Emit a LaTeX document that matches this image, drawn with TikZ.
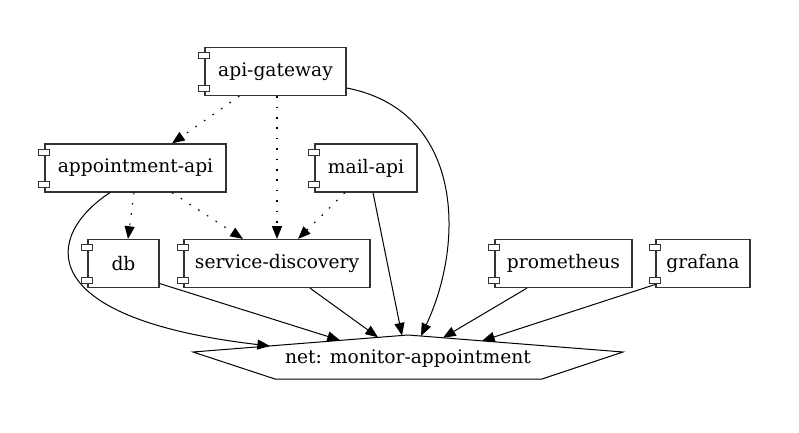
\documentclass[tikz,border=0pt]{standalone}
\usepackage{fontspec}
\setmainfont{DejaVu Serif}
\usetikzlibrary{arrows.meta,calc}
\begin{document}
\begin{tikzpicture}[x=0.75pt,y=-0.75pt,
  comp/.style={draw=black!80, line width=0.9pt, rectangle, inner sep=0pt, minimum height=36pt, font=\fontsize{14}{16}\selectfont},
  dep/.style={-{Triangle[length=9.5pt,width=7.5pt]}, line width=0.8pt, dash pattern=on 1.3pt off 6.5pt},
  link/.style={-{Triangle[length=9.5pt,width=7.5pt]}, line width=0.75pt},
  port/.style={draw=black!80, fill=white, line width=0.8pt},
  netlabel/.style={font=\fontsize{14}{16}\selectfont, inner sep=0pt}]
\fill[white] (0,0) rectangle (799,432);
\useasboundingbox (0,0) rectangle (799,432);

% components
\node[comp, minimum width=141*0.75pt] (gw) at (275.5,71.5) {api-gateway};
\node[comp, minimum width=181*0.75pt] (appt) at (135.5,168) {appointment-api};
\node[comp, minimum width=102*0.75pt] (mail) at (366,168) {mail-api};
\node[comp, minimum width=71*0.75pt] (db) at (123.5,263.5) {db};
\node[comp, minimum width=186*0.75pt] (sd) at (277,263.5) {service-discovery};
\node[comp, minimum width=137*0.75pt] (prom) at (563.5,263.5) {prometheus};
\node[comp, minimum width=94*0.75pt] (graf) at (703,263.5) {grafana};

% network
\node[netlabel] (net) at (408,359) {net: monitor-appointment};
\draw[line width=0.75pt] ($(net)+(-215,-7)$) -- ($(net)+(0,-24)$) -- ($(net)+(215,-7)$)
  -- ($(net)+(134,20)$) -- ($(net)+(-133,20)$) -- cycle;
\coordinate (nA) at (270,346);
\coordinate (nB) at (340,340.3);
\coordinate (nC) at (378,337.3);
\coordinate (nD) at (402,335.6);
\coordinate (nE) at (421,336);
\coordinate (nF) at (443,337.8);
\coordinate (nG) at (482,340.9);

% dependencies (dotted)
\draw[dep] ($(gw.south west)+(35,0)$) -- ($(appt.north)+(36.5,0)$);
\draw[dep] ($(gw.south)+(1.5,0)$) -- (sd.north);
\draw[dep] ($(appt.south)+(-1.5,0)$) -- ($(db.north)+(4.5,0)$);
\draw[dep] ($(appt.south)+(36.5,0)$) -- ($(sd.north)+(-34,0)$);
\draw[dep] ($(mail.south)+(-21,0)$) -- ($(sd.north)+(21,0)$);

% network links
\draw[link] ($(appt.south)+(-25.5,0)$) .. controls (45,235) and (30,318) .. (nA);
\draw[link] ($(gw.east)+(0,16.5)$) .. controls (462,110) and (466,240) .. (nE);
\draw[link] ($(mail.south)+(7,0)$) -- (nD);
\draw[link] ($(db.east)+(0,20)$) -- (nB);
\draw[link] ($(sd.south)+(33,0)$) -- (nC);
\draw[link] ($(prom.south)+(-36.5,0)$) -- (nF);
\draw[link] ($(graf.south west)+(1,-4)$) -- (nG);

% component ports
\foreach \n in {gw,appt,mail,db,sd,prom,graf}{
  \draw[port] ($(\n.north west)+(-5.5,6)$) rectangle ($(\n.north west)+(5.5,12)$);
  \draw[port] ($(\n.south west)+(-5.5,-11)$) rectangle ($(\n.south west)+(5.5,-5)$);
}
\end{tikzpicture}
\end{document}
